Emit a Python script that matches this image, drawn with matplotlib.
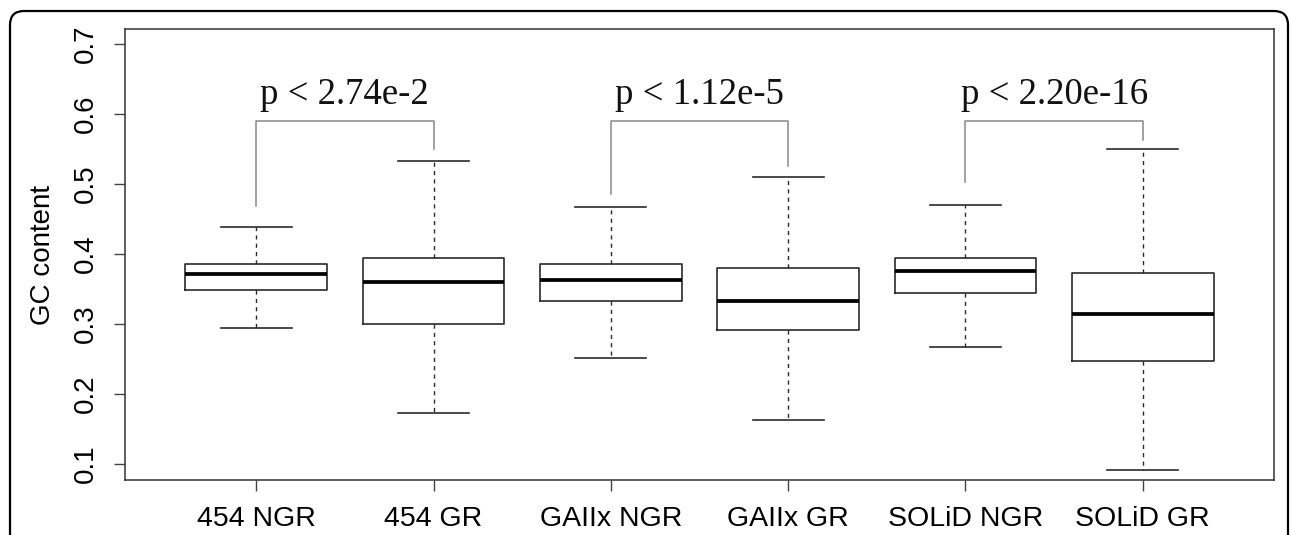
import matplotlib.pyplot as plt
from matplotlib.patches import FancyBboxPatch

labels = ["454 NGR", "454 GR", "GAIIx NGR", "GAIIx GR", "SOLiD NGR", "SOLiD GR"]
whis_hi = [0.438, 0.533, 0.467, 0.510, 0.469, 0.550]
q3 = [0.386, 0.394, 0.385, 0.380, 0.394, 0.373]
medians = [0.371, 0.359, 0.363, 0.333, 0.375, 0.3145]
q1 = [0.348, 0.300, 0.332, 0.291, 0.344, 0.246]
whis_lo = [0.294, 0.173, 0.251, 0.162, 0.267, 0.091]

# significance brackets between each NGR / GR pair
p_labels = ["p < 2.74e-2", "p < 1.12e-5", "p < 2.20e-16"]
bracket_top = 0.589
left_leg_bottom = [0.468, 0.486, 0.502]
right_leg_bottom = [0.549, 0.526, 0.562]
p_text_y = 0.614

fig = plt.figure(figsize=(12.9, 5.35), dpi=100)
ax = fig.add_axes([125 / 1290, 1 - 480 / 535, (1274 - 125) / 1290, (480 - 29.3) / 535])

stats = []
for i, lab in enumerate(labels):
    stats.append({"label": lab, "med": medians[i], "q1": q1[i], "q3": q3[i],
                  "whislo": whis_lo[i], "whishi": whis_hi[i], "fliers": []})

positions = list(range(1, len(labels) + 1))
ax.bxp(stats, positions=positions, widths=0.8, showfliers=False,
       boxprops={"color": "#2a2a2a", "linewidth": 1.2},
       medianprops={"color": "black", "linewidth": 2.7, "solid_capstyle": "butt"},
       whiskerprops={"color": "#2a2a2a", "linewidth": 1.0, "linestyle": (0, (3, 3))},
       capprops={"color": "#2a2a2a", "linewidth": 1.2},
       capwidths=0.4)

for k, txt in enumerate(p_labels):
    xl = positions[2 * k]
    xr = positions[2 * k + 1]
    ax.plot([xl, xl, xr, xr], [left_leg_bottom[k], bracket_top, bracket_top, right_leg_bottom[k]],
            color="#888888", linewidth=1.1)
    ax.text((xl + xr) / 2, p_text_y, txt, ha="center", va="baseline",
            fontsize=26.5, family="Liberation Serif", color="#111111")

ax.set_xlim(0.26, 6.74)
ax.set_ylim(0.0767, 0.7206)
ax.set_yticks([0.1, 0.2, 0.3, 0.4, 0.5, 0.6, 0.7])
ax.set_yticklabels(["0.1", "0.2", "0.3", "0.4", "0.5", "0.6", "0.7"],
                   rotation=90, va="center", family="Liberation Sans", fontsize=20)
ax.set_xticks(positions)
ax.set_xticklabels(labels, family="Liberation Sans", fontsize=20.5)
ax.tick_params(length=8, width=1, color="#444444", pad=11)
for sp in ax.spines.values():
    sp.set_color("#333333")
    sp.set_linewidth(1.1)

ax.set_ylabel("GC content", family="Liberation Sans", fontsize=20)
ax.yaxis.set_label_coords(-0.060, 0.5)

# rounded outer frame of the figure panel
frame = FancyBboxPatch((10, -40), 1278, 40 + 535 - 11, boxstyle="round,pad=0,rounding_size=14",
                       transform=None, fill=False, edgecolor="black", linewidth=1.6)
fig.patches.append(frame)

fig.savefig("out.png", dpi=100)
